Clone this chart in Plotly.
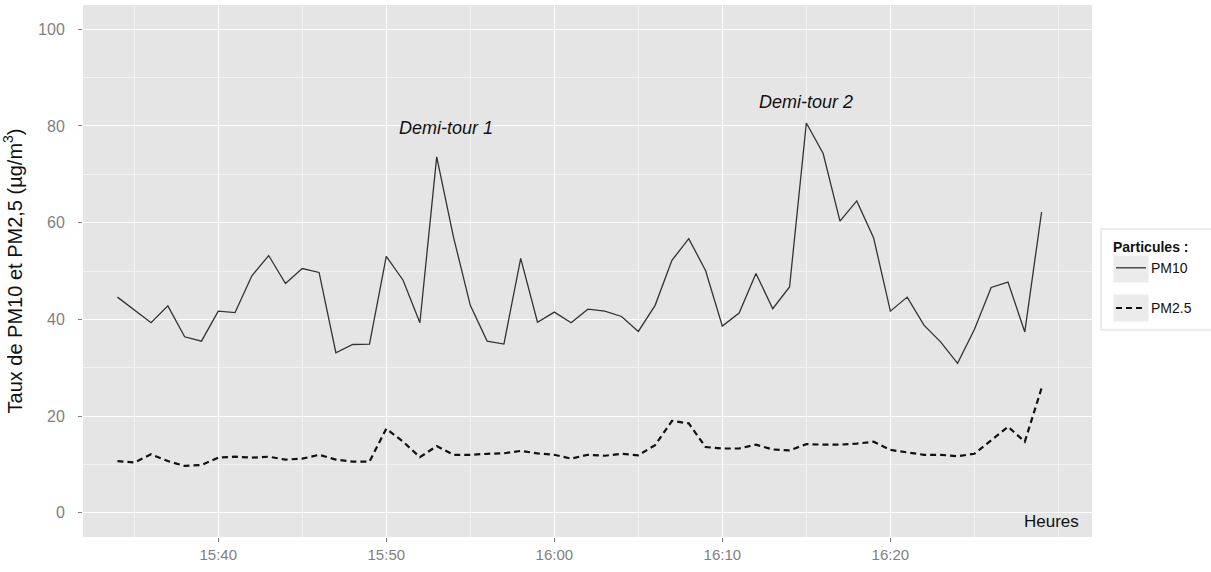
import pandas as pd
import plotly.graph_objects as go

# one reading per minute, 15:34 -> 16:29
heures = pd.date_range("2014-01-01 15:34", "2014-01-01 16:29", freq="min")

pm10 = [44.6, 42.0, 39.3, 42.8, 36.4, 35.5, 41.7, 41.4, 49.0, 53.2,
        47.4, 50.5, 49.7, 33.1, 34.8, 34.9, 53.0, 48.1, 39.3, 73.6,
        57.0, 42.9, 35.5, 34.9, 52.6, 39.4, 41.5, 39.3, 42.1, 41.7,
        40.6, 37.5, 42.9, 52.2, 56.7, 50.1, 38.6, 41.3, 49.5, 42.2,
        46.7, 80.6, 74.3, 60.3, 64.5, 56.9, 41.7, 44.6, 38.8, 35.3,
        30.9, 37.9, 46.6, 47.7, 37.4, 62.2]

pm25 = [10.7, 10.4, 12.1, 10.7, 9.7, 9.9, 11.4, 11.6, 11.4, 11.6,
        11.0, 11.2, 12.0, 11.0, 10.6, 10.6, 17.4, 14.7, 11.5, 13.8,
        12.0, 12.0, 12.2, 12.3, 12.8, 12.3, 12.0, 11.2, 12.0, 11.8,
        12.2, 11.9, 14.0, 19.0, 18.5, 13.6, 13.3, 13.3, 14.1, 13.1,
        12.9, 14.2, 14.1, 14.1, 14.3, 14.7, 13.0, 12.5, 12.0, 12.0,
        11.7, 12.2, 15.0, 17.8, 14.7, 25.8]

y_ticks = [0, 20, 40, 60, 80, 100]
x_ticks = ["2014-01-01 15:40", "2014-01-01 15:50", "2014-01-01 16:00",
           "2014-01-01 16:10", "2014-01-01 16:20"]
x_minor = ["2014-01-01 15:35", "2014-01-01 15:45", "2014-01-01 15:55",
           "2014-01-01 16:05", "2014-01-01 16:15", "2014-01-01 16:25",
           "2014-01-01 16:30"]

FONT = "Liberation Sans, Arial, sans-serif"
GREY_TXT = "#7f7f7f"

# plot area in pixels: x 83..1092, y 5..537
def px_x(p):
    return (p - 83) / 1009

def px_y(p):
    return (537 - p) / 532

fig = go.Figure()

fig.add_trace(go.Scatter(
    x=heures, y=pm10, mode="lines", name="PM10", legendgroup="a",
    line=dict(color="#333333", width=1.3),
))
fig.add_trace(go.Scatter(
    x=heures, y=pm25, mode="lines", name="PM2.5", legendgroup="b",
    line=dict(color="#111111", width=2.2, dash="6px,4px"),
))

fig.add_annotation(x="2014-01-01 15:53:34", y=79.5, text="<i>Demi-tour 1</i>",
                   showarrow=False, font=dict(size=18, color="#111111"))
fig.add_annotation(x="2014-01-01 16:15:00", y=85.0, text="<i>Demi-tour 2</i>",
                   showarrow=False, font=dict(size=18, color="#111111"))
fig.add_annotation(x=0.989, xref="paper", xanchor="right", y=-1.8, text="Heures",
                   showarrow=False, font=dict(size=17, color="#111111"))

# legend frame and grey key backgrounds (ggplot look)
fig.add_shape(type="rect", xref="paper", yref="paper",
              x0=px_x(1101), x1=px_x(1230), y0=px_y(330), y1=px_y(229),
              fillcolor="white", line=dict(color="#d9d9d9", width=1))
for top in (255, 294):
    fig.add_shape(type="rect", xref="paper", yref="paper",
                  x0=px_x(1113), x1=px_x(1149), y0=px_y(top + 28), y1=px_y(top),
                  fillcolor="#ebebeb", line=dict(color="white", width=1))

fig.update_layout(
    width=1211, height=572,
    margin=dict(l=83, r=119, t=5, b=35),
    paper_bgcolor="white",
    plot_bgcolor="#e5e5e5",
    font=dict(family=FONT, size=15, color=GREY_TXT),
    legend=dict(
        title=dict(text="<b>Particules :</b>", font=dict(size=14, color="#111111")),
        font=dict(size=14, color="#111111"),
        x=px_x(1111), xanchor="left", y=px_y(234), yanchor="top",
        bgcolor="rgba(0,0,0,0)", borderwidth=0,
        tracegroupgap=19, itemwidth=30,
    ),
)

fig.update_xaxes(
    range=["2014-01-01 15:31:57", "2014-01-01 16:32:00"],
    tickvals=x_ticks, tickformat="%H:%M",
    showgrid=True, gridcolor="white", gridwidth=1.4,
    ticks="outside", ticklen=4, tickcolor=GREY_TXT,
    showline=False, zeroline=False,
    minor=dict(tickvals=x_minor, showgrid=True, gridcolor="#f2f2f2", gridwidth=0.8),
    tickfont=dict(size=15, color=GREY_TXT),
)
fig.update_yaxes(
    range=[-5, 105], tickvals=y_ticks,
    showgrid=True, gridcolor="white", gridwidth=1.4,
    ticks="outside", ticklen=4, tickcolor=GREY_TXT,
    ticklabelstandoff=10,
    showline=False, zeroline=False,
    minor=dict(tickvals=[10, 30, 50, 70, 90], showgrid=True,
               gridcolor="#f2f2f2", gridwidth=0.8),
    tickfont=dict(size=16, color=GREY_TXT),
    title=dict(text="Taux de PM10 et PM2,5 (µg/m<sup>3</sup>)",
               font=dict(size=20, color="#111111"), standoff=10),
    automargin=False,
)

fig.write_html("out.html", config={"displayModeBar": False},
               post_script="document.body.style.margin = '0';")
